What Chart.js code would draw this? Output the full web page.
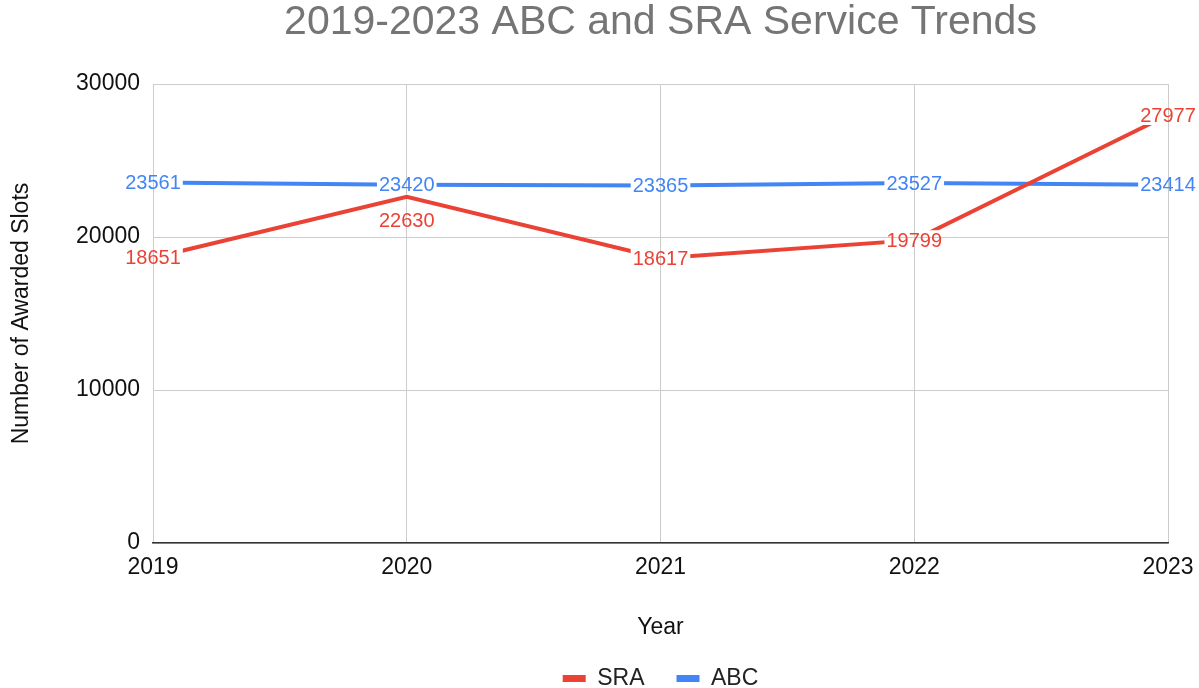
<!DOCTYPE html>
<html>
<head>
<meta charset="utf-8">
<script src="https://cdn.jsdelivr.net/npm/chart.js@4/dist/chart.umd.min.js"></script>
<style>
  html, body { margin: 0; padding: 0; background: #fff; }
  #wrap { width: 1199px; height: 688px; }
</style>
</head>
<body>
<div id="wrap"><canvas id="trendChart"></canvas></div>
<script>
const years = ["2019", "2020", "2021", "2022", "2023"];
const sraValues = [18651, 22630, 18617, 19799, 27977];
const abcValues = [23561, 23420, 23365, 23527, 23414];
const yTicks = [0, 10000, 20000, 30000];

const RED = "#EA4335";
const BLUE = "#4285F4";
const FONT = "'Liberation Sans', Arial, sans-serif";
const LABEL_SIZE = 20;

// works out where each value label goes; the second series moves below its point if it hits the first
function labelBoxes(chart) {
    const ctx = chart.ctx;
    ctx.save();
    ctx.font = LABEL_SIZE + "px " + FONT;
    let placed = [];
    const order = [1, 0]; // ABC labels first, SRA dodges them
    order.forEach(di => {
        const meta = chart.getDatasetMeta(di);
        const ds = chart.data.datasets[di];
        meta.data.forEach((pt, i) => {
            const text = String(ds.data[i]);
            const w = ctx.measureText(text).width;
            const h = LABEL_SIZE;
            let cy = pt.y;
            let box = { x: pt.x - w / 2 - 2, y: cy - h / 2, w: w + 4, h: h };
            const hit = placed.some(b => b.i === i &&
                box.x < b.x + b.w && box.x + box.w > b.x && box.y < b.y + b.h && box.y + box.h > b.y);
            if (hit) {
                cy = pt.y + 24;
                box.y = cy - h / 2;
            }
            placed.push({ i: i, text: text, cx: pt.x, cy: cy, color: ds.borderColor, x: box.x, y: box.y, w: box.w, h: box.h });
        });
    });
    ctx.restore();
    return placed;
}

const valueLabels = {
    id: "valueLabels",
    beforeDatasetsDraw(chart) {
        const ctx = chart.ctx;
        chart.$labelBoxes = labelBoxes(chart);
        ctx.save();
        ctx.beginPath();
        ctx.rect(0, 0, chart.width, chart.height);
        chart.$labelBoxes.forEach(b => ctx.rect(b.x, b.y, b.w, b.h));
        ctx.clip("evenodd");
    },
    afterDatasetsDraw(chart) {
        const ctx = chart.ctx;
        ctx.restore();
        ctx.save();
        ctx.font = LABEL_SIZE + "px " + FONT;
        ctx.textAlign = "center";
        ctx.textBaseline = "middle";
        chart.$labelBoxes.forEach(b => {
            ctx.fillStyle = b.color;
            ctx.fillText(b.text, b.cx, b.cy + 1);
        });
        ctx.restore();
    }
};

new Chart(document.getElementById("trendChart"), {
    type: "line",
    data: {
        labels: years,
        datasets: [
            { label: "SRA", data: sraValues, borderColor: RED, backgroundColor: RED, borderWidth: 4, pointRadius: 0, tension: 0 },
            { label: "ABC", data: abcValues, borderColor: BLUE, backgroundColor: BLUE, borderWidth: 4, pointRadius: 0, tension: 0 }
        ]
    },
    options: {
        responsive: true,
        maintainAspectRatio: false,
        animation: false,
        layout: { padding: { left: 0, right: 0, top: 0, bottom: -12 } },
        plugins: {
            title: {
                display: true,
                text: "2019-2023 ABC and SRA Service Trends",
                fullSize: false,
                color: "#757575",
                font: { family: FONT, size: 41, weight: "normal", lineHeight: 1.1 },
                padding: { top: 0, bottom: 39 }
            },
            legend: {
                position: "bottom",
                fullSize: false,
                labels: {
                    font: { family: FONT, size: 23 },
                    color: "#222",
                    boxWidth: 23,
                    boxHeight: 7,
                    padding: 32,
                    generateLabels(chart) {
                        return chart.data.datasets.map((ds, i) => ({
                            text: ds.label,
                            fillStyle: ds.borderColor,
                            strokeStyle: ds.borderColor,
                            lineWidth: 0,
                            fontColor: "#222",
                            datasetIndex: i
                        }));
                    }
                }
            },
            tooltip: { enabled: false }
        },
        scales: {
            x: {
                offset: false,
                grid: { color: "#cccccc", lineWidth: 1, drawTicks: false },
                border: { color: "#333333", width: 1.5 },
                ticks: { color: "#111", font: { family: FONT, size: 23 }, padding: 11, maxRotation: 0 },
                title: { display: true, text: "Year", color: "#111", font: { family: FONT, size: 23, lineHeight: 0.6 }, padding: 0 },
                afterFit(scale) {
                    scale.height = 92;
                    scale.paddingLeft = 0;
                    scale.paddingRight = 31;
                }
            },
            y: {
                min: 0,
                max: 30000,
                afterBuildTicks(scale) { scale.ticks = yTicks.map(v => ({ value: v })); },
                grid: { color: "#cccccc", lineWidth: 1, drawTicks: false },
                border: { display: false },
                ticks: { color: "#111", font: { family: FONT, size: 23 }, padding: 13, callback: v => String(v) },
                title: { display: true, text: "Number of Awarded Slots", color: "#111", font: { family: FONT, size: 23, lineHeight: 1.9 }, padding: 0 },
                afterFit(scale) { scale.width = 153; }
            }
        }
    },
    plugins: [valueLabels]
});
</script>
</body>
</html>
